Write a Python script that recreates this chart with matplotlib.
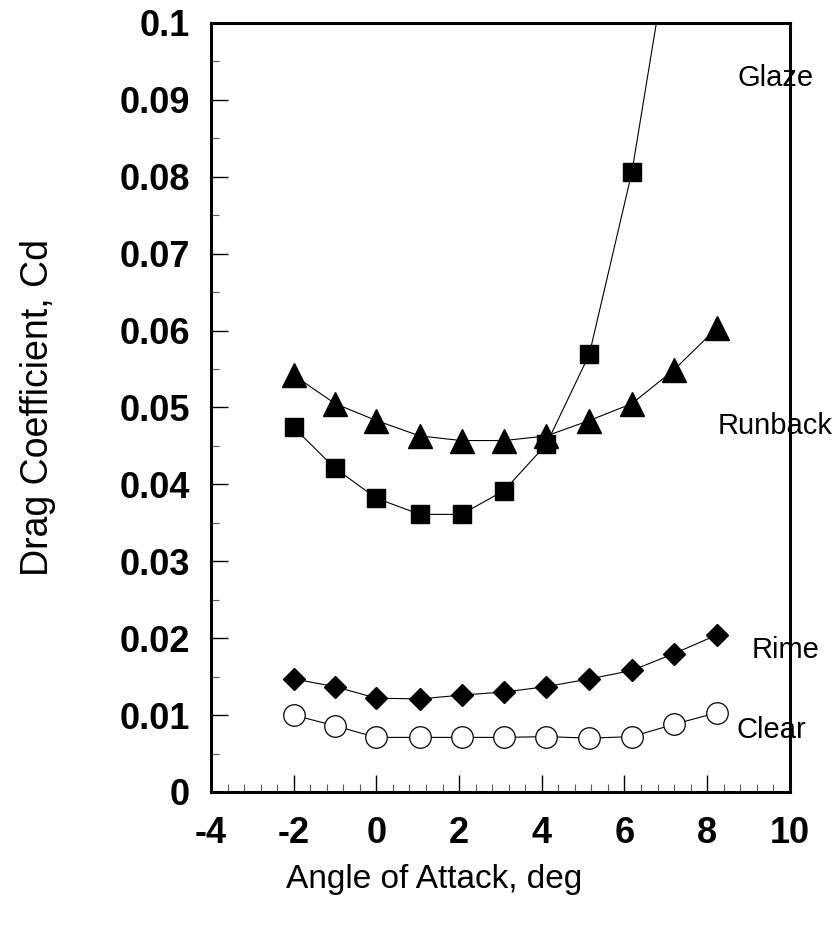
import matplotlib
matplotlib.use('Agg')
import matplotlib.pyplot as plt
from matplotlib.ticker import MultipleLocator, FixedLocator

# angle of attack (deg) and drag coefficient for each ice shape
alpha = [-2.0, -1.0, 0.0, 1.05, 2.06, 3.09, 4.11, 5.15, 6.18, 7.2, 8.23]
cd_runback = [0.0542, 0.0505, 0.0483, 0.0463, 0.0457, 0.0457, 0.0463, 0.0483, 0.0505, 0.0549, 0.0603]
cd_glaze = [0.0474, 0.0421, 0.0382, 0.0361, 0.0361, 0.0392, 0.0452, 0.0569, 0.0806, 0.114]
cd_rime = [0.0147, 0.0137, 0.0122, 0.0121, 0.0126, 0.0130, 0.0137, 0.0147, 0.0158, 0.0180, 0.0204]
cd_clear = [0.0100, 0.0086, 0.0071, 0.0071, 0.0071, 0.0071, 0.0072, 0.0070, 0.0072, 0.0088, 0.0103]

x_ticks = [-4, -2, 0, 2, 4, 6, 8, 10]
y_ticks = [0, 0.01, 0.02, 0.03, 0.04, 0.05, 0.06, 0.07, 0.08, 0.09, 0.1]
y_labels = ['0', '0.01', '0.02', '0.03', '0.04', '0.05', '0.06', '0.07', '0.08', '0.09', '0.1']

plt.rcParams['font.family'] = ['Liberation Sans', 'DejaVu Sans']

fig = plt.figure(figsize=(8.34, 9.30), dpi=100)
ax = fig.add_axes([0.253, 0.1484, 0.694, 0.8269])

line_kw = dict(color='black', lw=0.8, clip_on=True)
ax.plot(alpha[:len(cd_glaze)], cd_glaze, marker='s', ms=12.5, mfc='black', mec='black', **line_kw)
ax.plot(alpha, cd_runback, marker='^', ms=17, mfc='black', mec='black', **line_kw)
ax.plot(alpha, cd_rime, marker='D', ms=11.5, mfc='black', mec='black', **line_kw)
ax.plot(alpha, cd_clear, marker='o', ms=15.5, mfc='white', mec='black', mew=0.9, **line_kw)

ax.set_xlim(-4, 10)
ax.set_ylim(0, 0.1)

ax.xaxis.set_major_locator(FixedLocator(x_ticks))
ax.xaxis.set_minor_locator(MultipleLocator(0.4))
ax.yaxis.set_major_locator(FixedLocator(y_ticks))
ax.yaxis.set_minor_locator(MultipleLocator(0.005))
ax.set_yticklabels(y_labels)
ax.set_xticklabels([str(t) for t in x_ticks])

ax.tick_params(which='both', direction='in', top=False, right=False)
ax.tick_params(which='major', length=12, width=1.0, color='black')
ax.tick_params(which='minor', length=6, width=0.8, color='0.35')
ax.tick_params(axis='y', which='major', pad=15)
ax.tick_params(axis='x', which='major', pad=17)
for lbl in ax.get_xticklabels() + ax.get_yticklabels():
    lbl.set_fontsize(26)
    lbl.set_fontweight('bold')

for sp in ax.spines.values():
    sp.set_linewidth(2.2)

ax.set_xlabel('Angle of Attack, deg', fontsize=24)
ax.xaxis.set_label_coords(0.386, -0.094)
ax.set_ylabel('Drag Coefficient, Cd', fontsize=27)
ax.yaxis.set_label_coords(-0.268, 0.5)

# series names sit at the right edge, partly across the frame
label_kw = dict(fontsize=21, va='baseline', clip_on=False)
ax.text(8.74, 0.0918, 'Glaze', **label_kw)
ax.text(8.26, 0.0465, 'Runback', **label_kw)
ax.text(9.08, 0.0174, 'Rime', **label_kw)
ax.text(8.72, 0.0070, 'Clear', **label_kw)

fig.savefig('out.png', dpi=100)
